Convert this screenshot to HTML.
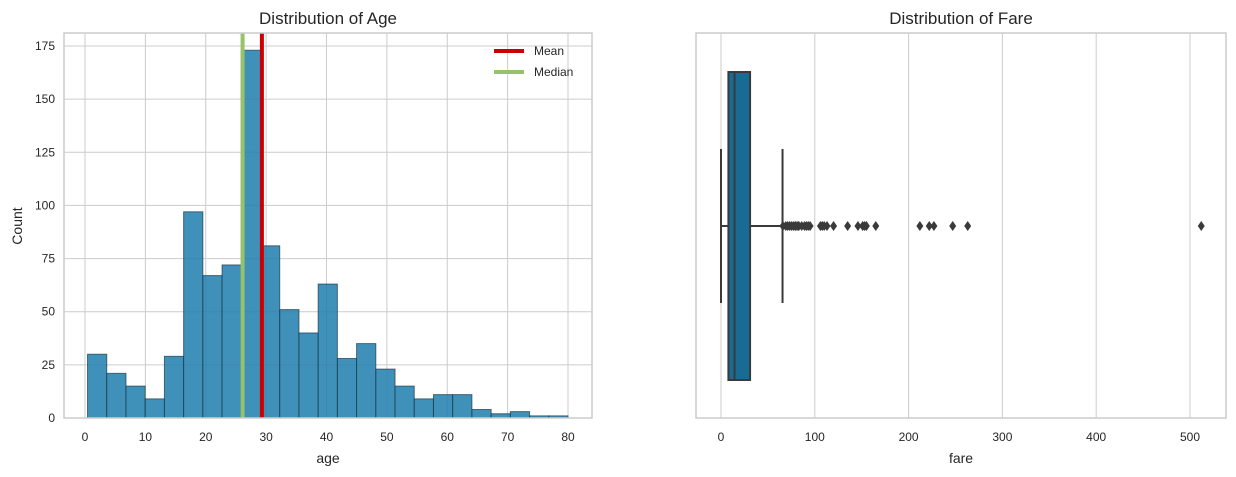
<!DOCTYPE html>
<html><head><meta charset="utf-8"><style>
body{margin:0;background:#fff;font-family:"Liberation Sans",sans-serif}
svg text{font-family:"Liberation Sans",sans-serif;fill:#262626}
</style></head><body>
<svg id="c" width="1236" height="472"></svg>
<script>
const ageBinCounts=[30,21,15,9,29,97,67,72,173,81,51,40,63,28,35,23,15,9,11,11,4,2,3,1,1];
const ageMin=0.42, ageMax=80;
const ageMean=29.3, ageMedian=26.1;
const ageXTicks=[0,10,20,30,40,50,60,70,80];
const ageYTicks=[0,25,50,75,100,125,150,175];
const fareStats=[0,7.9,14.45,31,65.6]; // whislo,q1,med,q3,whishi
const fareOutliers=[66,69,71,73,75,77,79,80,82,83,86,89,91,93,95,106,108,110,113,120,135,146,151,153,155,165,212,222,227,247,263,512];
const fareXTicks=[0,100,200,300,400,500];

const NS="http://www.w3.org/2000/svg";
const svg=document.getElementById('c');
function el(t,a,p){const e=document.createElementNS(NS,t);for(const k in a)e.setAttribute(k,a[k]);(p||svg).appendChild(e);return e;}
// left axes
const L={x0:64,x1:592,y0:33,y1:418};
const ax=v=>85+(v-0)*(568-85)/80;
const ay=v=>418-v*(418-46)/175;
let g=el('g',{});


ageXTicks.forEach(t=>{el('line',{x1:ax(t),x2:ax(t),y1:L.y0,y2:L.y1,stroke:'#cccccc','stroke-width':1},g);
 const tx=el('text',{x:ax(t),y:441,'font-size':12,'text-anchor':'middle'},g);tx.textContent=t;
 });
ageYTicks.forEach(t=>{el('line',{x1:L.x0,x2:L.x1,y1:ay(t),y2:ay(t),stroke:'#cccccc','stroke-width':1},g);
 const tx=el('text',{x:55,y:ay(t)+4,'font-size':12,'text-anchor':'end'},g);tx.textContent=t;
 });
const bw=(ageMax-ageMin)/ageBinCounts.length;
ageBinCounts.forEach((c,i)=>{const x=ax(ageMin+i*bw),x2=ax(ageMin+(i+1)*bw);
 const r=el('rect',{x:x,y:ay(c),width:x2-x,height:ay(0)-ay(c),fill:'#1f7eae','fill-opacity':0.85,stroke:'#1a3a4a','stroke-opacity':0.7,'stroke-width':1},g);
 });
let m=el('line',{x1:ax(ageMedian),x2:ax(ageMedian),y1:L.y0,y2:L.y1,stroke:'#97c26b','stroke-width':4},g);

m=el('line',{x1:ax(ageMean),x2:ax(ageMean),y1:L.y0,y2:L.y1,stroke:'#cc0000','stroke-width':4},g);

el('rect',{x:L.x0,y:L.y0,width:L.x1-L.x0,height:L.y1-L.y0,fill:'none',stroke:'#cccccc','stroke-width':1.5},g);
// legend
let lg=el('g',{},g);
el('line',{x1:494,x2:524,y1:51,y2:51,stroke:'#cc0000','stroke-width':4},lg);
let t=el('text',{x:534,y:55,'font-size':12},lg);t.textContent='Mean';
el('line',{x1:494,x2:524,y1:72,y2:72,stroke:'#97c26b','stroke-width':4},lg);
t=el('text',{x:534,y:76,'font-size':12},lg);t.textContent='Median';
t=el('text',{x:328,y:24,'font-size':17,'text-anchor':'middle'});t.textContent='Distribution of Age';

t=el('text',{x:328,y:463,'font-size':14,'text-anchor':'middle'});t.textContent='age';

t=el('text',{x:22,y:226,'font-size':14,'text-anchor':'middle',transform:'rotate(-90 22 226)'});t.textContent='Count';


// right axes
const R={x0:696,x1:1226,y0:33,y1:418};
const fx=v=>721+v*(1190-721)/500;
g=el('g',{});


fareXTicks.forEach(tk=>{el('line',{x1:fx(tk),x2:fx(tk),y1:R.y0,y2:R.y1,stroke:'#cccccc','stroke-width':1},g);
 const tx=el('text',{x:fx(tk),y:441,'font-size':12,'text-anchor':'middle'},g);tx.textContent=tk;
 });
const cy=226,bh=154,wh=77;
const s=fareStats;
el('line',{x1:fx(s[0]),x2:fx(s[1]),y1:cy,y2:cy,stroke:'#3a3a3a','stroke-width':2},g);
el('line',{x1:fx(s[3]),x2:fx(s[4]),y1:cy,y2:cy,stroke:'#3a3a3a','stroke-width':2},g);
el('line',{x1:fx(s[0]),x2:fx(s[0]),y1:cy-wh,y2:cy+wh,stroke:'#3a3a3a','stroke-width':2},g);
el('line',{x1:fx(s[4]),x2:fx(s[4]),y1:cy-wh,y2:cy+wh,stroke:'#3a3a3a','stroke-width':2},g);
let b=el('rect',{x:fx(s[1]),y:cy-bh,width:fx(s[3])-fx(s[1]),height:2*bh,fill:'#176b94',stroke:'#3a3a3a','stroke-width':2},g);

el('line',{x1:fx(s[2]),x2:fx(s[2]),y1:cy-bh,y2:cy+bh,stroke:'#3a3a3a','stroke-width':2},g);
fareOutliers.forEach(v=>{const x=fx(v);
 const p=el('polygon',{points:`${x},${cy-5} ${x+3.5},${cy} ${x},${cy+5} ${x-3.5},${cy}`,fill:'#3a3a3a'},g);
 });
el('rect',{x:R.x0,y:R.y0,width:R.x1-R.x0,height:R.y1-R.y0,fill:'none',stroke:'#cccccc','stroke-width':1.5},g);
t=el('text',{x:961,y:24,'font-size':17,'text-anchor':'middle'});t.textContent='Distribution of Fare';

t=el('text',{x:961,y:463,'font-size':14,'text-anchor':'middle'});t.textContent='fare';

</script>
</body></html>
